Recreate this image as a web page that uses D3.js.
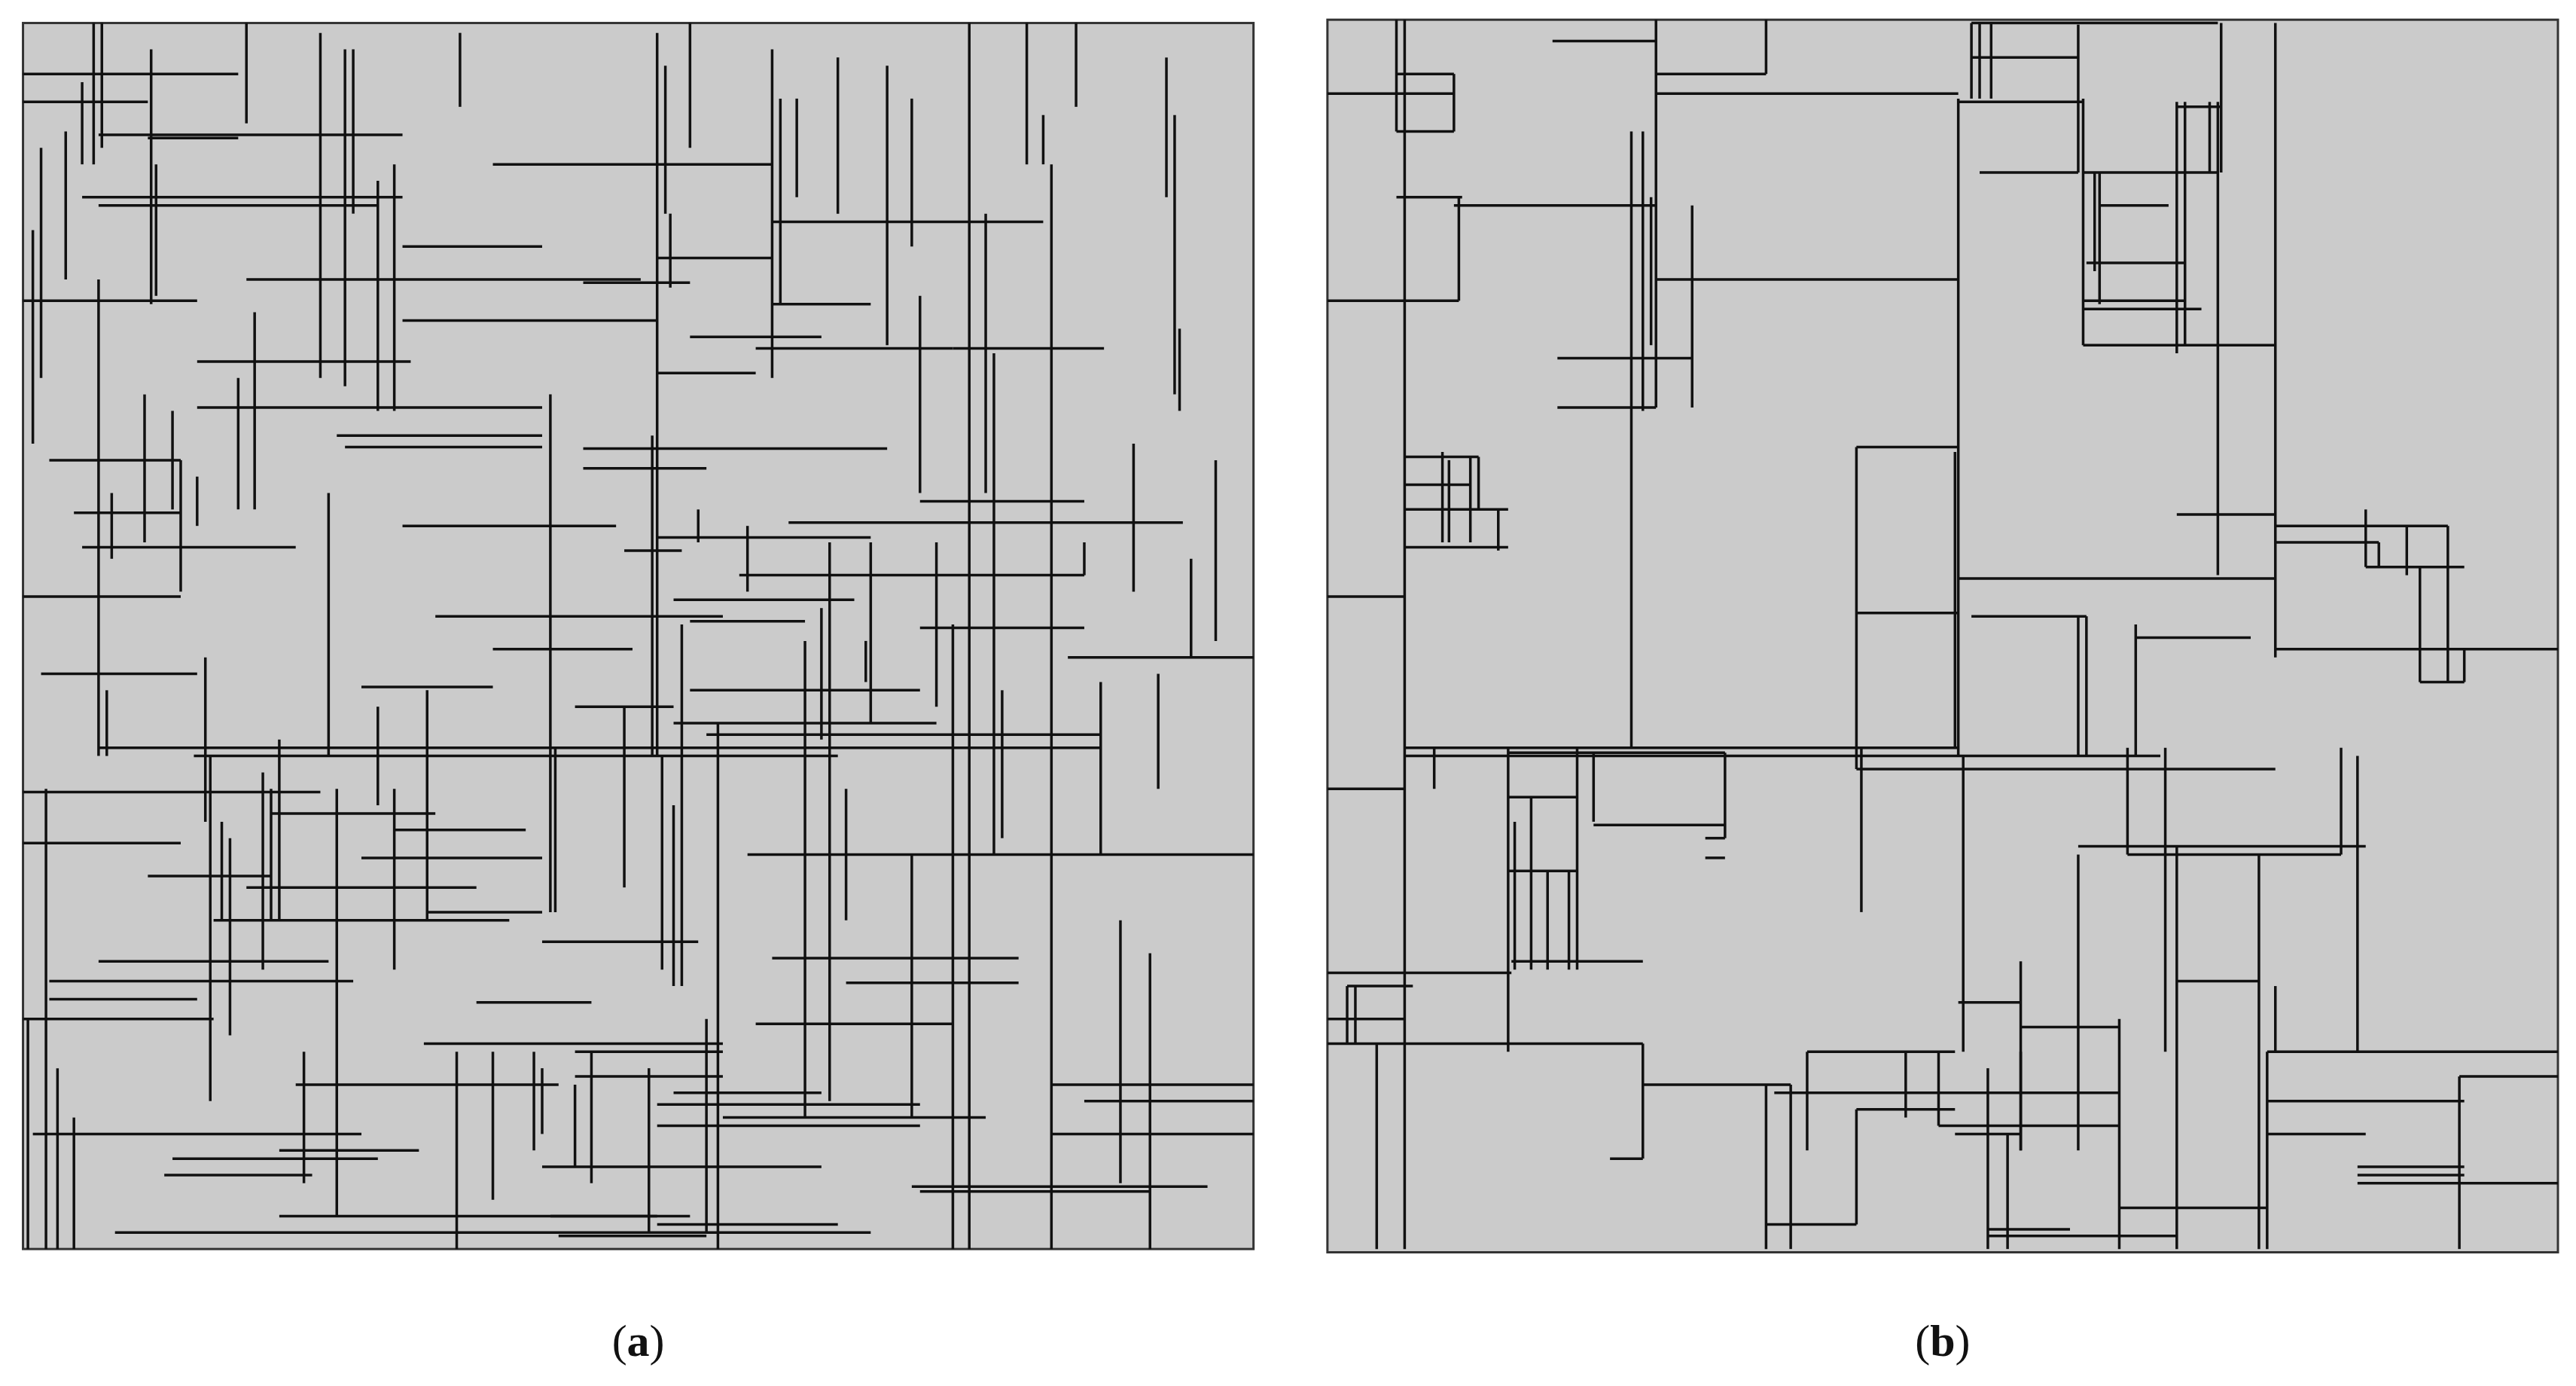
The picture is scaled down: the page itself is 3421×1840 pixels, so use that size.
<!DOCTYPE html>
<html><head><meta charset="utf-8">
<script src="https://cdn.jsdelivr.net/npm/d3@7"></script>
<style>body{margin:0;background:#fff}</style></head>
<body><svg id="c" width="3421" height="1840"></svg>
<script>
const panelLabels=["a","b"];
const panelAExtent=[14,763,14,760];
const panelBExtent=[808,1557,12,762];
// horizontal segments [y, x1, x2]
const aH=[[45,14,145],[62,14,90],[82,60,245],[84,90,145],[100,300,470],[120,50,245],[125,60,230],[135,470,635],[150,245,330],[157,400,470],[170,150,390],[172,355,420],[183,14,120],[185,470,530],[195,245,400],[205,420,500],[212,460,580],[212,580,672],[220,120,250],[227,400,460],[248,120,330],[265,205,330],[272,210,330],[273,355,540],[280,30,110],[285,355,430],[305,560,660],[312,45,110],[320,245,375],[318,480,720],[327,400,530],[333,50,180],[335,380,415],[350,450,660],[363,14,110],[365,410,520],[375,265,440],[378,420,490],[382,560,660],[395,300,385],[400,650,763],[410,25,120],[418,220,300],[420,420,560],[430,350,410],[440,410,570],[447,430,670],[455,60,670],[460,118,510],[482,14,195],[495,165,265],[505,240,320],[513,14,110],[520,455,640],[520,640,763],[522,220,330],[533,90,165],[540,150,290],[555,260,330],[560,130,310],[573,330,425],[583,470,620],[585,60,200],[597,30,215],[598,515,620],[608,30,120],[610,290,360],[620,14,130],[623,460,580],[635,258,440],[640,350,440],[655,350,440],[660,180,340],[660,640,763],[665,410,500],[670,660,763],[672,400,560],[680,440,600],[685,400,560],[690,20,220],[690,640,763],[700,170,255],[705,105,230],[710,330,500],[715,100,190],[722,555,735],[725,560,700],[740,170,400],[740,335,420],[745,400,510],[750,70,530],[752,340,430]];
// vertical segments [x, y1, y2]
const aV=[[17,620,760],[40,80,170],[50,50,100],[57,14,100],[62,14,90],[92,30,185],[95,100,180],[60,170,460],[65,420,460],[68,300,340],[20,140,270],[25,90,230],[28,480,760],[35,650,760],[45,680,760],[88,240,330],[105,250,310],[110,280,360],[120,290,320],[125,400,500],[128,460,670],[135,500,560],[140,510,630],[150,14,75],[145,230,310],[155,190,310],[160,470,590],[165,480,560],[170,450,560],[185,640,720],[195,20,230],[200,300,460],[205,480,740],[210,30,235],[215,30,130],[230,110,250],[240,100,250],[230,430,490],[240,480,590],[260,420,560],[278,640,760],[280,20,65],[300,640,730],[325,640,700],[330,650,690],[335,240,555],[338,455,555],[350,660,710],[360,640,720],[380,430,540],[397,265,460],[395,650,750],[400,20,460],[403,460,590],[405,40,130],[408,130,175],[410,490,600],[415,380,600],[420,14,90],[425,310,330],[430,620,750],[437,440,760],[455,320,360],[470,30,230],[475,60,185],[485,60,120],[490,390,680],[500,370,450],[505,330,670],[510,35,130],[515,480,560],[527,390,415],[530,330,440],[540,40,210],[555,60,150],[555,520,680],[560,180,300],[570,330,430],[580,380,760],[590,14,760],[600,130,300],[605,215,520],[610,420,510],[625,14,100],[640,100,760],[655,14,65],[635,70,100],[660,330,350],[670,415,520],[682,560,720],[690,270,360],[700,580,760],[705,410,480],[710,35,120],[715,70,240],[718,200,250],[725,340,400],[740,280,390]];
const bH=[[57,808,885],[80,850,885],[45,850,885],[120,850,890],[125,885,1008],[183,808,888],[170,1008,1192],[25,945,1008],[45,1008,1075],[57,1008,1192],[62,1192,1268],[14,1200,1350],[35,1200,1265],[65,1325,1352],[105,1268,1350],[105,1205,1265],[125,1278,1320],[160,1270,1330],[183,1268,1330],[188,1268,1340],[210,1268,1350],[210,1350,1385],[218,948,1030],[248,948,1008],[272,1130,1192],[278,855,900],[295,855,895],[310,855,918],[333,855,918],[313,1325,1385],[320,1385,1490],[330,1385,1448],[345,1440,1500],[352,1192,1385],[363,808,855],[373,1130,1192],[375,1200,1270],[388,1300,1370],[395,1385,1557],[415,1473,1500],[455,855,1192],[458,918,1050],[460,855,1315],[468,1130,1385],[480,808,855],[485,918,960],[502,970,1050],[510,1038,1050],[515,1265,1440],[520,1295,1425],[522,1038,1050],[530,918,960],[585,920,1000],[592,808,920],[600,820,860],[597,1325,1375],[610,1192,1230],[620,808,855],[625,1230,1290],[635,808,1000],[640,1100,1190],[640,1380,1557],[655,1497,1557],[660,1000,1090],[665,1080,1290],[670,1380,1500],[675,1130,1190],[685,1180,1290],[690,1190,1230],[690,1380,1440],[705,980,1000],[710,1435,1500],[715,1435,1500],[720,1435,1557],[735,1290,1380],[745,1075,1130],[748,1210,1260],[752,1210,1325]];
const bV=[[855,12,760],[850,12,80],[885,45,80],[888,120,183],[993,80,455],[1000,80,250],[1005,120,210],[1008,12,248],[1030,125,248],[1075,12,45],[1130,272,468],[1133,455,555],[1192,60,460],[1190,275,455],[1195,460,640],[1200,14,60],[1205,14,60],[1212,14,60],[1268,60,210],[1275,105,165],[1278,105,185],[1265,15,105],[1325,62,215],[1330,62,210],[1345,62,105],[1350,62,350],[1352,14,105],[1385,14,400],[1440,310,345],[1448,330,345],[1465,320,350],[1490,320,415],[1473,345,415],[1500,395,415],[1318,455,640],[1300,380,460],[1265,375,460],[1270,375,460],[1230,585,700],[1265,520,700],[1290,620,760],[1295,455,520],[1325,515,760],[1375,520,760],[1385,600,640],[1425,455,520],[1435,460,640],[1497,655,760],[1380,640,760],[918,455,640],[922,500,590],[932,485,590],[942,530,590],[955,530,590],[960,455,590],[1000,635,705],[1050,458,510],[970,458,500],[1075,660,760],[1090,660,760],[1100,640,700],[1130,675,745],[1180,640,685],[1210,650,760],[1222,690,760],[1230,640,700],[1160,640,680],[820,600,635],[825,600,635],[838,635,760],[878,275,330],[882,280,330],[895,278,330],[900,278,310],[912,310,335],[873,455,480]];

const k=3421/1568;
const svg=d3.select("#c");
function panel(ext,H,V,label){
  const x=d3.scaleLinear().domain([ext[0],ext[1]]).range([ext[0]*k,ext[1]*k]);
  const y=d3.scaleLinear().domain([ext[2],ext[3]]).range([ext[2]*k,ext[3]*k]);
  const g=svg.append("g");
  g.append("rect").attr("x",x(ext[0])).attr("y",y(ext[2])).attr("width",x(ext[1])-x(ext[0])).attr("height",y(ext[3])-y(ext[2])).attr("fill","#cbcbcb").attr("stroke","#333").attr("stroke-width",3);
  g.selectAll(".h").data(H).join("line").attr("x1",d=>x(d[1])).attr("x2",d=>x(d[2])).attr("y1",d=>y(d[0])).attr("y2",d=>y(d[0])).attr("stroke","#111").attr("stroke-width",3.5);
  g.selectAll(".v").data(V).join("line").attr("x1",d=>x(d[0])).attr("x2",d=>x(d[0])).attr("y1",d=>y(d[1])).attr("y2",d=>y(d[2])).attr("stroke","#111").attr("stroke-width",3.5);
  const t=svg.append("text").attr("x",x((ext[0]+ext[1])/2)).attr("y",y(825)).attr("text-anchor","middle").attr("font-family","Liberation Serif, serif").attr("font-size",60).attr("fill","#111");
  t.append("tspan").text("(");t.append("tspan").attr("font-weight","bold").text(label);t.append("tspan").text(")");
}
panel(panelAExtent,aH,aV,panelLabels[0]);
panel(panelBExtent,bH,bV,panelLabels[1]);
</script></body></html>
